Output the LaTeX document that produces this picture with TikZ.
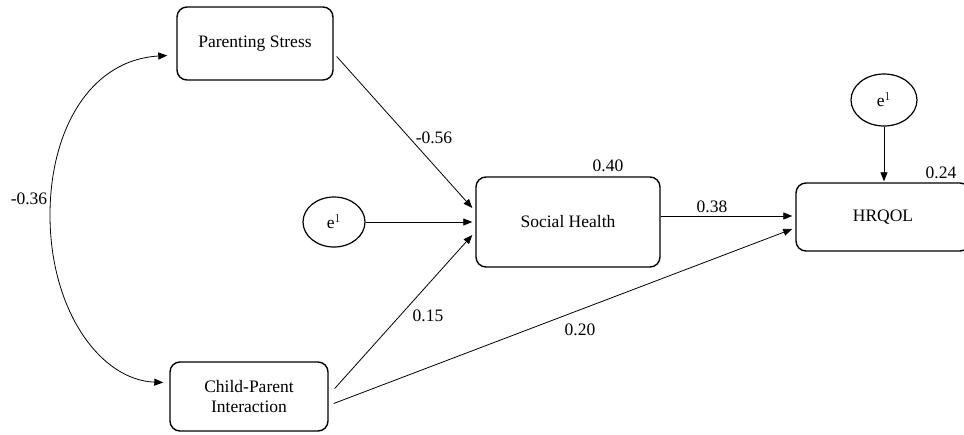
\documentclass[tikz,border=0pt]{standalone}
\usepackage{fontspec}
\setmainfont{Liberation Serif}
\usetikzlibrary{arrows.meta,shapes.geometric,calc}
\begin{document}
\begin{tikzpicture}[x=1pt,y=-1pt,
  font=\fontsize{17.5}{19}\selectfont,
  var/.style={draw,line width=1.4pt,rounded corners=10pt,align=center,inner sep=0pt},
  err/.style={draw,line width=1.2pt,ellipse,inner sep=0pt},
  path/.style={line width=0.8pt,-{Triangle[length=9pt,width=7pt]}},
  lab/.style={inner sep=0pt}]
\useasboundingbox (0,0) rectangle (964,434);
\node[var,minimum width=156pt,minimum height=73pt] (PS) at (255,43.5) {Parenting Stress};
\node[var,minimum width=158pt,minimum height=69pt] (CPI) at (249,396.5) {Child-Parent\\[1pt]Interaction};
\node[var,minimum width=184pt,minimum height=90pt] (SH) at (568,222) {Social Health};
\node[var,minimum width=174pt,minimum height=68pt] (HR) at (883,217) {HRQOL};
\node[err,minimum width=62pt,minimum height=50pt] (E1) at (334,222) {e$^{1}$};
\node[err,minimum width=66pt,minimum height=52pt] (E2) at (884,100) {e$^{1}$};
\coordinate (cmid) at (50,215);
\draw[path] ([xshift=3pt,yshift=-13pt]PS.east) -- ([xshift=-3pt,yshift=14pt]SH.west);
\draw[path] (E1.east) -- ([xshift=-3pt]SH.west);
\draw[path] ([xshift=6pt,yshift=8pt]CPI.east) -- ([xshift=-3pt,yshift=-13pt]SH.west);
\draw[path] ([xshift=5pt,yshift=-7pt]CPI.east) -- ([xshift=-3pt,yshift=-12pt]HR.west);
\draw[path] ([yshift=6pt]SH.east) -- ([xshift=-3pt,yshift=6pt]SH.east -| HR.west);
\draw[path] (E2.south) -- ([yshift=1pt]HR.north -| E2.south);
\draw[line width=0.8pt,{Triangle[length=9pt,width=7pt]}-{Triangle[length=9pt,width=7pt]}]
  ([xshift=-9pt,yshift=-12pt]PS.west) .. controls (90,60) and (50,130) .. (cmid)
  .. controls (50,310) and (100,380) .. ([xshift=-6pt,yshift=14pt]CPI.west);
\node[lab] (l1) at (29,199) {-0.36};
\node[lab] (l2) at (434,138) {-0.56};
\node[lab] (l3) at (428,316) {0.15};
\node[lab] (l4) at (608,166) {0.40};
\node[lab] (l5) at (712,207) {0.38};
\node[lab] (l6) at (580,330) {0.20};
\node[lab] (l7) at (941,173) {0.24};
\end{tikzpicture}
\end{document}
